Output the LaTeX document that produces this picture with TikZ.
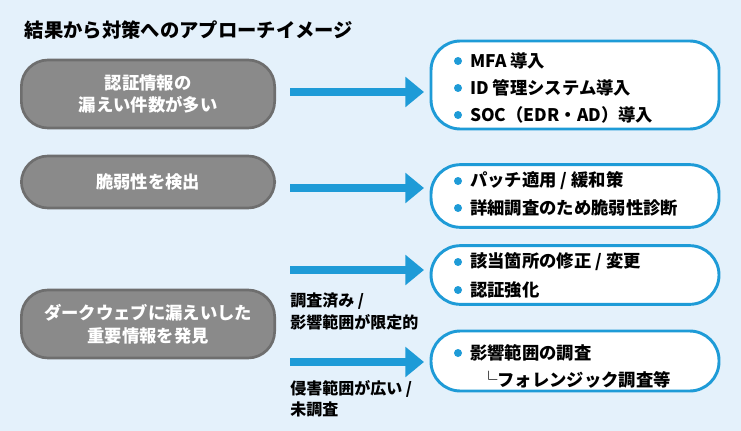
\documentclass[tikz,border=0pt]{standalone}
\usepackage{fontspec}
\setmainfont{Noto Sans CJK JP}
\usetikzlibrary{positioning,arrows.meta}
\definecolor{bgblue}{HTML}{E4F1FB}
\definecolor{keyblue}{HTML}{1E9BD7}
\definecolor{boxgray}{HTML}{8A8A8A}
\definecolor{edgegray}{HTML}{6E6E6E}
\tikzset{
  cause/.style={draw=edgegray,line width=2pt,fill=boxgray,rounded corners=20pt,
    text=white,align=center,font=\fontsize{13}{17}\selectfont\bfseries},
  plan/.style={draw=keyblue,line width=2.2pt,fill=white,rounded corners=22pt},
  item/.style={anchor=west,font=\fontsize{13}{15}\selectfont\bfseries,inner sep=0pt},
  dot/.style={circle,fill=keyblue,inner sep=0pt,minimum size=6pt},
  flow/.style={-{Triangle[length=14pt,width=22pt]},line width=6pt,draw=keyblue},
  note/.style={anchor=north west,align=left,font=\fontsize{12}{16}\selectfont\bfseries,inner sep=0pt}
}
\begin{document}
\begin{tikzpicture}[x=0.75pt,y=-0.75pt]
\fill[bgblue] (0,0) rectangle (741,431);
\useasboundingbox (0,0) rectangle (741,431);
\node[anchor=west,font=\fontsize{14.5}{16}\selectfont\bfseries] (title) at (20,30) {結果から対策へのアプローチイメージ};
%% causes
\node[cause,minimum width=190pt,minimum height=51pt] (c1) at (148,94) {認証情報の\\漏えい件数が多い};
\node[cause,minimum width=190pt,minimum height=39pt] (c2) at (148,182) {脆弱性を検出};
\node[cause,minimum width=190pt,minimum height=51pt] (c3) at (148,324) {ダークウェブに漏えいした\\重要情報を発見};
%% plans
\node[plan,minimum width=216pt,minimum height=66pt] (p1) at (575,85) {};
\node[plan,minimum width=216pt,minimum height=47pt] (p2) at (575,196) {};
\node[plan,minimum width=216pt,minimum height=44pt] (p3) at (575,275) {};
\node[plan,minimum width=216pt,minimum height=45pt] (p4) at (575,361) {};
%% arrows
\coordinate (a1) at (290,92); \coordinate (b1) at (424,92);
\coordinate (a2) at (290,188); \coordinate (b2) at (424,188);
\coordinate (a3) at (290,270); \coordinate (b3) at (424,270);
\coordinate (a4) at (290,362); \coordinate (b4) at (424,362);
\foreach \i in {1,...,4} \draw[flow] (a\i) -- (b\i);
\node[note] (n1) at (290,293) {調査済み /\\影響範囲が限定的};
\node[note] (n2) at (290,380) {侵害範囲が広い /\\未調査};
%% items
\foreach \y/\t in {61/{MFA 導入},88/{ID 管理システム導入},115/{SOC（EDR・AD）導入},
  181/{パッチ適用 / 緩和策},208/{詳細調査のため脆弱性診断},
  262/{該当箇所の修正 / 変更},290/{認証強化},353/{影響範囲の調査}}{
  \node[dot] at (458,\y) {};
  \node[item] at (470,\y) {\t};
}
\node[item] (sub) at (480,380) {└フォレンジック調査等};
\end{tikzpicture}
\end{document}
